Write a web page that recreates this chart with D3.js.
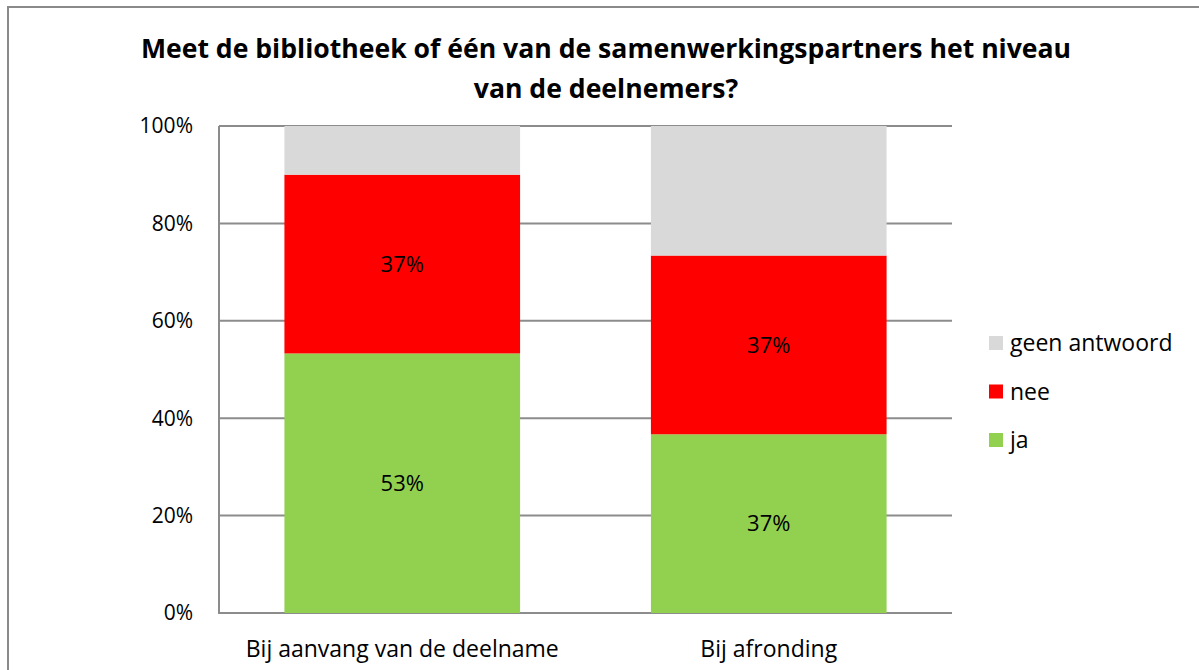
<!DOCTYPE html>
<html lang="nl">
<head>
<meta charset="utf-8">
<script src="https://d3js.org/d3.v7.min.js"></script>
<style>
  body { margin: 0; background: #fff; }
  text { font-family: "Open Sans", sans-serif; fill: #000; }
</style>
</head>
<body>
<div id="chart"></div>
<script>
// data (n = 30 respondents, shown rounded)
var categories = ["Bij aanvang van de deelname", "Bij afronding"];
var seriesNames = ["ja", "nee", "geen antwoord"];
var ja = [53.3, 36.7];
var nee = [36.7, 36.7];
var geen = [10.0, 26.6];
var yTicks = [0, 20, 40, 60, 80, 100];
var colors = { "ja": "#92D050", "nee": "#FF0000", "geen antwoord": "#D9D9D9" };

let width = 1199, height = 670;
let plot = { left: 219, right: 952, top: 126, bottom: 613 };

let svg = d3.select("#chart").append("svg")
    .attr("width", width)
    .attr("height", height);

// outer chart frame
svg.append("rect")
    .attr("x", 8).attr("y", 7)
    .attr("width", 1200).attr("height", 700)
    .attr("fill", "none")
    .attr("stroke", "#8a8a8a")
    .attr("stroke-width", 2);

let x = d3.scaleBand()
    .domain(categories)
    .range([plot.left, plot.right])
    .paddingInner(0.357)
    .paddingOuter(0.1785);

let y = d3.scaleLinear()
    .domain([0, 100])
    .range([plot.bottom, plot.top]);

// gridlines
svg.append("g")
    .selectAll("line")
    .data(yTicks)
    .enter()
    .append("line")
    .attr("x1", plot.left).attr("x2", plot.right)
    .attr("y1", d => y(d)).attr("y2", d => y(d))
    .attr("stroke", "#8c8c8c")
    .attr("stroke-width", 2);

// stacked bars
let table = categories.map((c, i) => ({ cat: c, "ja": ja[i], "nee": nee[i], "geen antwoord": geen[i] }));
let stack = d3.stack().keys(seriesNames)(table);

let layers = svg.append("g")
    .selectAll("g")
    .data(stack)
    .enter()
    .append("g")
    .attr("fill", d => colors[d.key]);

layers.selectAll("rect")
    .data(d => d)
    .enter()
    .append("rect")
    .attr("x", d => x(d.data.cat))
    .attr("width", x.bandwidth())
    .attr("y", d => y(d[1]))
    .attr("height", d => y(d[0]) - y(d[1]));

// data labels (only ja and nee)
stack.filter(s => s.key !== "geen antwoord").forEach(function(s) {
    svg.append("g")
        .selectAll("text")
        .data(s)
        .enter()
        .append("text")
        .attr("x", d => x(d.data.cat) + x.bandwidth() / 2)
        .attr("y", d => y((d[0] + d[1]) / 2))
        .attr("dy", "0.35em")
        .attr("text-anchor", "middle")
        .style("font-size", "22px")
        .text(d => Math.round(d[1] - d[0]) + "%");
});

// axes lines
svg.append("line")
    .attr("x1", plot.left).attr("x2", plot.left)
    .attr("y1", plot.top).attr("y2", plot.bottom + 1)
    .attr("stroke", "#8c8c8c").attr("stroke-width", 2);

// y tick labels
svg.append("g")
    .selectAll("text")
    .data(yTicks)
    .enter()
    .append("text")
    .attr("x", 193)
    .attr("y", d => y(d))
    .attr("dy", "0.35em")
    .attr("text-anchor", "end")
    .style("font-size", "21px")
    .text(d => d + "%");

// category labels
svg.append("g")
    .selectAll("text")
    .data(categories)
    .enter()
    .append("text")
    .attr("x", d => x(d) + x.bandwidth() / 2)
    .attr("y", 657)
    .attr("text-anchor", "middle")
    .style("font-size", "23px")
    .text(d => d);

// title
let title = svg.append("text")
    .attr("x", 606)
    .attr("text-anchor", "middle")
    .style("font-size", "26.6px")
    .style("font-weight", "bold");
title.append("tspan").attr("x", 606).attr("y", 58)
    .text("Meet de bibliotheek of één van de samenwerkingspartners het niveau");
title.append("tspan").attr("x", 606).attr("y", 98)
    .text("van de deelnemers?");

// legend (reversed order, top = geen antwoord)
let legendItems = seriesNames.slice().reverse();
let legend = svg.append("g")
    .selectAll("g")
    .data(legendItems)
    .enter()
    .append("g")
    .attr("transform", (d, i) => "translate(989," + (343 + i * 48.5) + ")");

legend.append("rect")
    .attr("x", 0).attr("y", -7)
    .attr("width", 14).attr("height", 14)
    .attr("fill", d => colors[d]);

legend.append("text")
    .attr("x", 21)
    .attr("y", 0)
    .attr("dy", "0.35em")
    .style("font-size", "23px")
    .text(d => d);
</script>
</body>
</html>
